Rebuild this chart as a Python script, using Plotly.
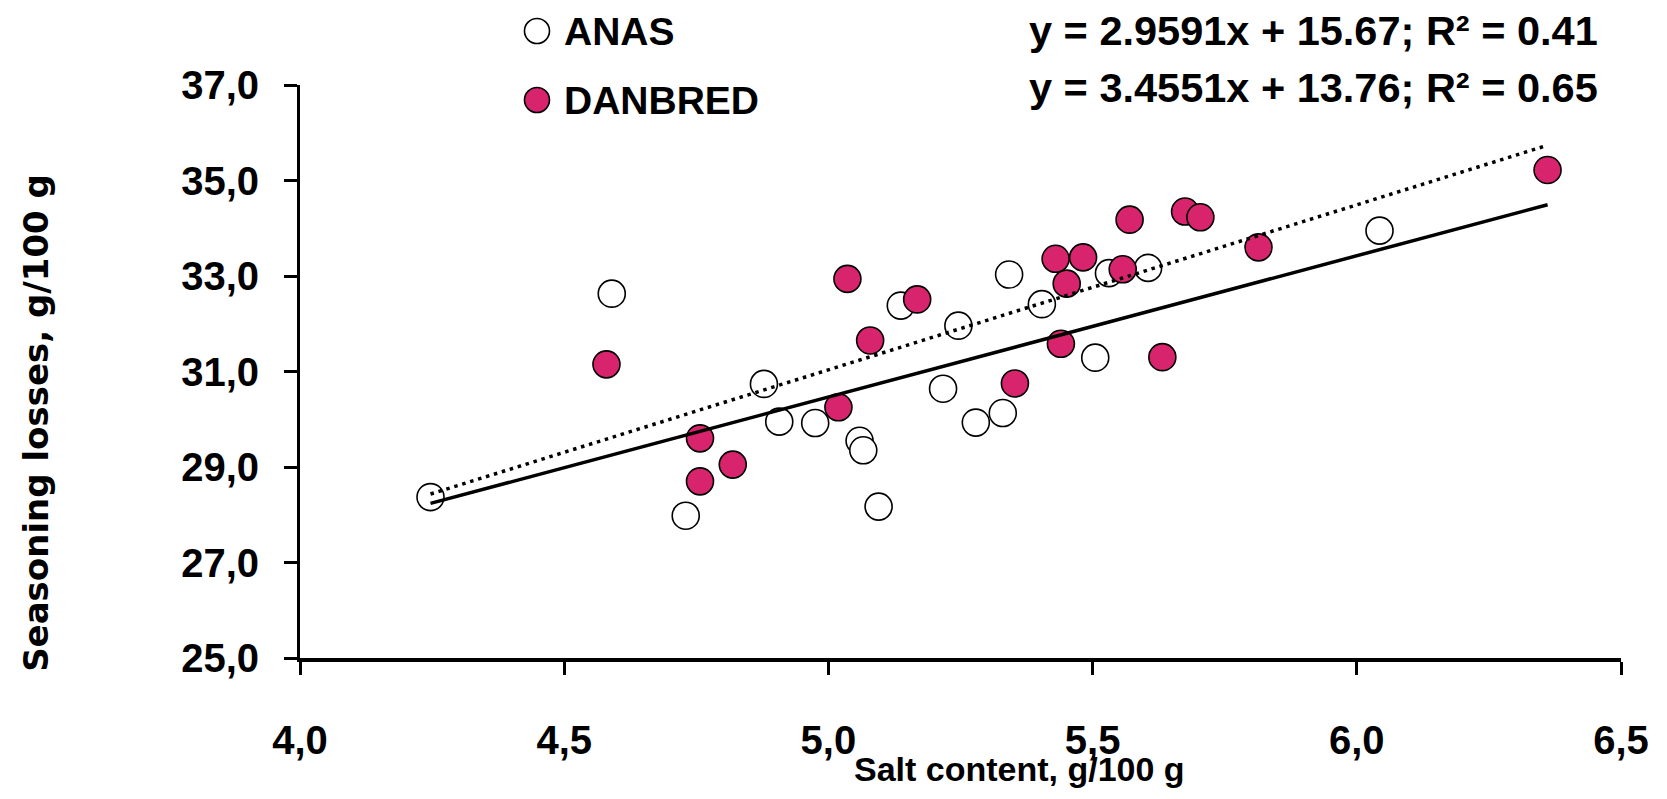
import numpy as np
import plotly.graph_objects as go

# ---- data ----
anas_x = [4.247, 4.590, 4.730, 4.878, 4.907, 4.975, 5.059, 5.066, 5.095, 5.137,
          5.217, 5.246, 5.279, 5.330, 5.342, 5.404, 5.505, 5.531, 5.605, 6.043]
anas_y = [28.37, 32.63, 27.98, 30.74, 29.95, 29.92, 29.55, 29.35, 28.17, 32.38,
          30.64, 31.96, 29.93, 30.13, 33.03, 32.41, 31.29, 33.06, 33.17, 33.95]

dan_x = [4.580, 4.757, 4.757, 4.819, 5.019, 5.036, 5.079, 5.168, 5.353, 5.430,
         5.440, 5.451, 5.482, 5.557, 5.570, 5.632, 5.675, 5.704, 5.814, 6.361]
dan_y = [31.15, 29.60, 28.70, 29.05, 30.25, 32.94, 31.65, 32.51, 30.75, 33.36,
         31.58, 32.84, 33.39, 33.14, 34.18, 31.30, 34.35, 34.23, 33.60, 35.22]

series_names = ["ANAS", "DANBRED"]
fit_slopes = [2.9591, 3.4551]
fit_intercepts = [15.67, 13.76]
fit_r2 = [0.41, 0.65]

x_ticks = [4.0, 4.5, 5.0, 5.5, 6.0, 6.5]
y_ticks = [25.0, 27.0, 29.0, 31.0, 33.0, 35.0, 37.0]

# ---- styles ----
PINK = "#D8246C"
FONT = "Liberation Sans, Arial, sans-serif"

fig = go.Figure()

fig.add_trace(go.Scatter(
    x=anas_x, y=anas_y, mode="markers", name=series_names[0],
    marker=dict(size=27, color="white", line=dict(color="black", width=1.6)),
    showlegend=False))
fig.add_trace(go.Scatter(
    x=dan_x, y=dan_y, mode="markers", name=series_names[1],
    marker=dict(size=27, color=PINK, line=dict(color="black", width=1.6)),
    showlegend=False))

all_x = np.array(anas_x + dan_x)
xl = np.array([all_x.min(), all_x.max()])
dashes = ["solid", "3.5px,4.8px"]
for k in range(2):
    fig.add_trace(go.Scatter(
        x=xl, y=fit_slopes[k] * xl + fit_intercepts[k], mode="lines",
        line=dict(color="black", width=3.5, dash=dashes[k]),
        showlegend=False, hoverinfo="skip"))

# ---- custom legend (layout decoration) ----
leg_fill = ["white", PINK]
leg_y = [1.0942, 0.9738]
shapes = []
annotations = []
for k in range(2):
    shapes.append(dict(
        type="circle", xref="paper", yref="paper",
        xsizemode="pixel", ysizemode="pixel",
        xanchor=0.1794, yanchor=leg_y[k],
        x0=-12.5, x1=12.5, y0=-12.5, y1=12.5,
        fillcolor=leg_fill[k], line=dict(color="black", width=1.6)))
    annotations.append(dict(
        text=series_names[k], xref="paper", yref="paper",
        x=0.1983, y=leg_y[k], xanchor="left", yanchor="middle",
        showarrow=False, font=dict(family=FONT, size=39, color="black", weight="bold")))

eq_y = [1.0955, 0.9948]
for k in range(2):
    annotations.append(dict(
        text=f"y = {fit_slopes[k]:.4f}x + {fit_intercepts[k]:.2f}; R² = {fit_r2[k]:.2f}",
        xref="paper", yref="paper", x=0.9841, y=eq_y[k],
        xanchor="right", yanchor="middle", showarrow=False,
        font=dict(family=FONT, size=41.5, color="black", weight="bold")))

annotations.append(dict(
    text="Salt content, g/100 g", xref="paper", yref="paper",
    x=0.545, y=-0.193, xanchor="center", yanchor="middle", showarrow=False,
    font=dict(family=FONT, size=34, color="black", weight="bold")))
annotations.append(dict(
    text="Seasoning losses, g/100 g", xref="paper", yref="paper",
    x=-0.2, y=0.41, xanchor="center", yanchor="middle", textangle=-90,
    showarrow=False, font=dict(family="DejaVu Sans, Verdana, sans-serif", size=34,
                               color="black", weight="bold")))

fig.update_layout(
    width=1667, height=799,
    margin=dict(l=292, r=54, t=77, b=149),
    paper_bgcolor="white", plot_bgcolor="white",
    separators=",.",
    shapes=shapes, annotations=annotations,
    showlegend=False,
)
fig.update_xaxes(
    range=[4.0, 6.5], tickvals=x_ticks, tickformat=".1f",
    showgrid=False, zeroline=False,
    showline=True, linecolor="black", linewidth=3.5,
    ticks="outside", ticklen=13, tickwidth=2.5, tickcolor="black",
    ticklabelstandoff=31,
    tickfont=dict(family=FONT, size=40, color="black", weight="bold"),
)
fig.update_yaxes(
    range=[25.0, 37.0], tickvals=y_ticks, tickformat=".1f",
    showgrid=False, zeroline=False,
    showline=True, linecolor="black", linewidth=3,
    ticks="outside", ticklen=13, tickwidth=2.5, tickcolor="black",
    ticklabelstandoff=17,
    tickfont=dict(family=FONT, size=40, color="black", weight="bold"),
)

fig.write_html("out.html")
